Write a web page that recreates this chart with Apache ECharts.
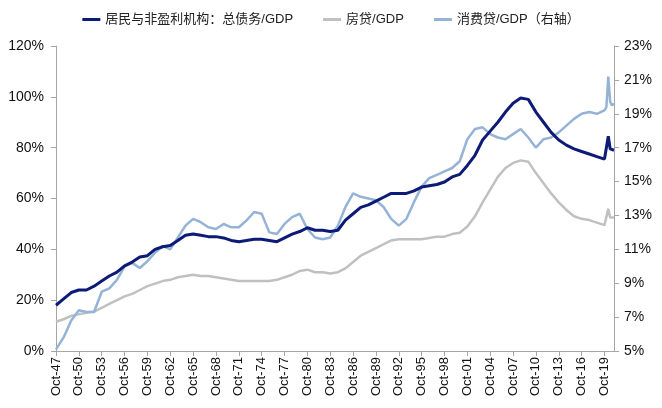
<!DOCTYPE html>
<html>
<head>
<meta charset="utf-8">
<script src="https://cdn.jsdelivr.net/npm/echarts@6/dist/echarts.min.js"></script>
<style>html,body{margin:0;padding:0;background:#fff}#c{width:662px;height:408px}</style>
</head>
<body>
<div id="c"></div>
<script>
// Periods (decimal years, Q4 of each year, then the 2020 quarters)
const dates = [1947.75,1948.75,1949.75,1950.75,1951.75,1952.75,1953.75,1954.75,1955.75,1956.75,
1957.75,1958.75,1959.75,1960.75,1961.75,1962.75,1963.75,1964.75,1965.75,1966.75,
1967.75,1968.75,1969.75,1970.75,1971.75,1972.75,1973.75,1974.75,1975.75,1976.75,
1977.75,1978.75,1979.75,1980.75,1981.75,1982.75,1983.75,1984.75,1985.75,1986.75,
1987.75,1988.75,1989.75,1990.75,1991.75,1992.75,1993.75,1994.75,1995.75,1996.75,
1997.75,1998.75,1999.75,2000.75,2001.75,2002.75,2003.75,2004.75,2005.75,2006.75,
2007.75,2008.75,2009.75,2010.75,2011.75,2012.75,2013.75,2014.75,2015.75,2016.75,
2017.75,2018.75,2019.75,2020.0,2020.25,2020.5,2020.75,2021.0];

// 居民与非盈利机构：总债务/GDP (%)
const totalDebt = [18,20.5,23,24,24,25.5,27.5,29.5,31,33.5,
35,37,37.5,40,41,41.5,43.5,45.5,46,45.5,
45,45,44.5,43.5,43,43.5,44,44,43.5,43,
44.5,46,47,48.5,47.5,47.5,47,47.5,51.5,54,
56.5,57.5,59,60.5,62,62,62,63,64.5,65,
65.5,66.5,68.5,69.5,73,77,83,86.5,90,94,
97.5,99.5,99,94,90,86,83,81,79.5,78.5,
77.5,76.5,75.5,76,84.5,79.5,80,79];

// 房贷/GDP (%)
const mortgage = [11.5,12.5,13.8,14.5,15,15.5,17,18.5,20,21.5,
22.5,24,25.5,26.5,27.5,28,29,29.5,30,29.5,
29.5,29,28.5,28,27.5,27.5,27.5,27.5,27.5,28,
29,30,31.5,32,31,31,30.5,31,32.5,35,
37.5,39,40.5,42,43.5,44,44,44,44,44.5,
45,45,46,46.5,49,53,58.5,63.5,68.5,72,
74,75,74.5,70,66,62,58.5,55.5,53,52,
51.5,50.5,49.5,50,56,52.5,53,52.5];

// 消费贷/GDP (%, right axis)
const consumer = [5.1,5.8,6.8,7.4,7.3,7.3,8.5,8.7,9.2,10,
10.2,9.9,10.3,10.8,11.2,11,11.7,12.4,12.8,12.6,
12.3,12.2,12.5,12.3,12.3,12.7,13.2,13.1,12,11.9,
12.5,12.9,13.1,12.2,11.7,11.6,11.7,12.4,13.5,14.3,
14.1,14,13.9,13.5,12.8,12.4,12.8,13.8,14.7,15.2,
15.4,15.6,15.8,16.2,17.5,18.1,18.2,17.8,17.6,17.5,
17.8,18.1,17.6,17,17.5,17.6,17.9,18.3,18.7,19,
19.1,19,19.2,19.4,21.2,19.7,19.5,19.6];

const seriesNames = ['居民与非盈利机构：总债务/GDP', '房贷/GDP', '消费贷/GDP（右轴）'];
const startYear = 1947.75;   // Oct-47
const endYear = 2021.0;
const rightBase = 5;         // right axis bottom (5%)

const FONT = 'Liberation Sans, Arial, Noto Sans CJK SC, sans-serif';
const axisColor = '#a6a6a6';

const toPts = (vals, shift) => dates.map((d, i) => [d - startYear, vals[i] - (shift || 0)]);

const chart = echarts.init(document.getElementById('c'), null, {renderer: 'canvas'});
chart.setOption({
  animation: false,
  backgroundColor: '#fff',
  textStyle: {fontFamily: FONT},
  grid: {left: 56, right: 48, top: 46, bottom: 57, containLabel: false},
  legend: {
    top: 8, left: 'center', itemGap: 30, itemWidth: 18, itemHeight: 3, icon: 'rect',
    textStyle: {fontSize: 13, color: '#222', fontFamily: FONT},
    data: seriesNames
  },
  xAxis: {
    type: 'value', min: 0, max: endYear - startYear, interval: 3,
    splitLine: {show: false},
    axisLine: {show: true, onZero: false, lineStyle: {color: axisColor, width: 1}},
    axisTick: {show: true, length: 5, lineStyle: {color: axisColor}},
    axisLabel: {
      rotate: 90, fontSize: 13, color: '#111', margin: 6, showMaxLabel: false,
      formatter: v => {
        if (Math.abs(v % 3) > 1e-6) return '';
        const yy = (47 + Math.round(v)) % 100;
        return 'Oct-' + String(yy).padStart(2, '0');
      }
    }
  },
  yAxis: [
    {
      type: 'value', min: 0, max: 120, interval: 20, position: 'left',
      splitLine: {show: false},
      axisLine: {show: true, lineStyle: {color: axisColor}},
      axisTick: {show: true, length: 5, lineStyle: {color: axisColor}},
      axisLabel: {fontSize: 14, color: '#111', margin: 12, formatter: '{value}%'}
    },
    {
      type: 'value', min: 0, max: 18, interval: 2, position: 'right',
      splitLine: {show: false},
      axisLine: {show: true, lineStyle: {color: axisColor}},
      axisTick: {show: true, length: 5, lineStyle: {color: axisColor}},
      axisLabel: {fontSize: 14, color: '#111', margin: 10, formatter: v => (v + rightBase) + '%'}
    }
  ],
  series: [
    {name: seriesNames[0], type: 'line', yAxisIndex: 0, symbol: 'none', z: 4,
     lineStyle: {color: '#0d1a78', width: 3}, itemStyle: {color: '#0d1a78'},
     data: toPts(totalDebt)},
    {name: seriesNames[1], type: 'line', yAxisIndex: 0, symbol: 'none', z: 2,
     lineStyle: {color: '#c0c0c0', width: 2.5}, itemStyle: {color: '#c0c0c0'},
     data: toPts(mortgage)},
    {name: seriesNames[2], type: 'line', yAxisIndex: 1, symbol: 'none', z: 3,
     lineStyle: {color: '#95b3d7', width: 2.5}, itemStyle: {color: '#95b3d7'},
     data: toPts(consumer, rightBase)}
  ]
});
</script>
</body>
</html>
